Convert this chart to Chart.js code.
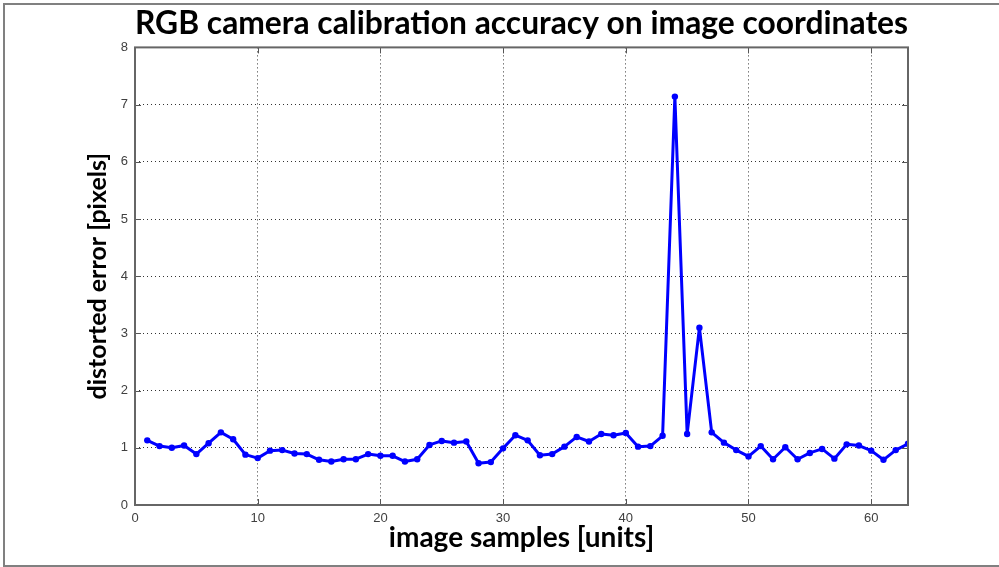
<!DOCTYPE html>
<html>
<head>
	<title>RGB camera calibration accuracy</title>
	<meta charset="utf-8">
	<script src="https://cdn.jsdelivr.net/npm/chart.js"></script>
	<style>
		body { margin: 0; background: #fff; }
		#wrap { position: relative; width: 999px; height: 567px; }
		#frame { position: absolute; left: 3px; top: 3px; width: 996px; height: 560px;
			border-top: 2px solid #808080; border-left: 2px solid #808080; border-bottom: 2px solid #808080; }
		#chart { position: absolute; left: 0; top: 0; }
	</style>
</head>
<body>
	<div id="wrap">
		<div id="frame"></div>
		<canvas id="chart" width="999" height="567"></canvas>
	</div>
	<script>
		// image sample index and distorted error (pixels)
		var samples = [];
		for (var i = 1; i <= 63; i++) samples.push(i);
		var errors = [
			1.13, 1.03, 1.00, 1.04, 0.89, 1.08, 1.27, 1.15, 0.88, 0.82,
			0.95, 0.96, 0.90, 0.89, 0.79, 0.76, 0.80, 0.80, 0.89, 0.86,
			0.86, 0.76, 0.80, 1.05, 1.12, 1.09, 1.11, 0.73, 0.75, 0.99,
			1.22, 1.13, 0.87, 0.89, 1.02, 1.19, 1.11, 1.24, 1.22, 1.26,
			1.02, 1.03, 1.21, 7.14, 1.24, 3.10, 1.27, 1.09, 0.96, 0.85,
			1.03, 0.80, 1.01, 0.80, 0.91, 0.98, 0.81, 1.06, 1.04, 0.95,
			0.79, 0.96, 1.07
		];
		var xTicks = [0, 10, 20, 30, 40, 50, 60];
		var yTicks = [0, 1, 2, 3, 4, 5, 6, 7, 8];

		var points = samples.map(function (s, i) { return { x: s, y: errors[i] }; });

		// matlab style box + inward tick marks
		var boxPlugin = {
			id: 'box',
			afterDatasetsDraw: function (chart) {
				var ctx = chart.ctx, a = chart.chartArea;
				var xs = chart.scales.x, ys = chart.scales.y;
				ctx.save();
				ctx.strokeStyle = '#555';
				ctx.lineWidth = 1;
				xTicks.forEach(function (v) {
					var px = Math.round(xs.getPixelForValue(v)) + 0.5;
					ctx.beginPath();
					ctx.moveTo(px, a.bottom); ctx.lineTo(px, a.bottom - 6);
					ctx.moveTo(px, a.top); ctx.lineTo(px, a.top + 6);
					ctx.stroke();
				});
				yTicks.forEach(function (v) {
					var py = Math.round(ys.getPixelForValue(v)) + 0.5;
					ctx.beginPath();
					ctx.moveTo(a.left, py); ctx.lineTo(a.left + 6, py);
					ctx.moveTo(a.right, py); ctx.lineTo(a.right - 6, py);
					ctx.stroke();
				});
				ctx.lineWidth = 2;
				ctx.strokeStyle = '#666';
				ctx.strokeRect(a.left, a.top, a.right - a.left, a.bottom - a.top);
				ctx.restore();
			}
		};

		var ctx = document.getElementById('chart').getContext('2d');
		var chart = new Chart(ctx, {
			type: 'line',
			data: {
				datasets: [{
					data: points,
					borderColor: '#0000ff',
					backgroundColor: '#0000ff',
					borderWidth: 3,
					borderJoinStyle: 'round',
					pointRadius: 3.2,
					pointBorderWidth: 0,
					tension: 0
				}]
			},
			options: {
				responsive: false,
				animation: false,
				layout: { padding: { left: 0, right: 91, top: 0, bottom: 0 } },
				plugins: {
					legend: { display: false },
					tooltip: { enabled: false },
					title: {
						display: true,
						fullSize: false,
						text: 'RGB camera calibration accuracy on image coordinates',
						color: '#000',
						font: { family: 'Lato', size: 32, weight: 'bold' },
						padding: { top: 4, bottom: 5 }
					}
				},
				scales: {
					x: {
						type: 'linear',
						min: 0,
						max: 63,
						afterFit: function (s) { s.height = 62; },
						border: { display: false, dash: [1, 3] },
						grid: { color: '#333', drawTicks: false },
						ticks: {
							stepSize: 10,
							includeBounds: false,
							padding: 6,
							color: '#404040',
							font: { family: 'Liberation Sans', size: 13 }
						},
						title: {
							display: true,
							text: 'image samples [units]',
							color: '#000',
							font: { family: 'Lato', size: 28, weight: 'bold' },
							padding: { top: 0, bottom: 12 }
						}
					},
					y: {
						min: 0,
						max: 8,
						afterFit: function (s) { s.width = 135; },
						border: { display: false, dash: [1, 3] },
						grid: { color: '#333', drawTicks: false },
						ticks: {
							stepSize: 1,
							padding: 7,
							color: '#404040',
							font: { family: 'Liberation Sans', size: 13 }
						},
						title: {
							display: true,
							text: 'distorted error [pixels]',
							color: '#000',
							font: { family: 'Lato', size: 25, weight: 'bold' },
							padding: { top: 83, bottom: 0 }
						}
					}
				}
			},
			plugins: [boxPlugin]
		});
	</script>
</body>
</html>
